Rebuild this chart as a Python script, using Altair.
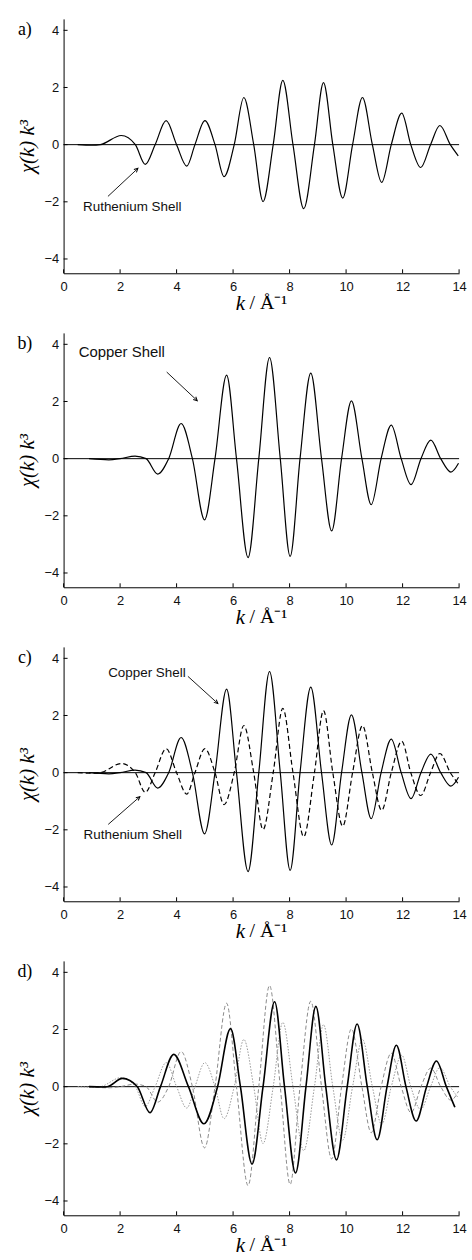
import math
import altair as alt
import pandas as pd

# ---------------- data ----------------
ru_k = [0.5, 1.0, 1.3, 2.04, 2.54, 2.89, 3.24, 3.63, 4.0, 4.36, 4.65, 5.0, 5.36, 5.68, 6.04,
        6.38, 6.73, 7.06, 7.42, 7.76, 8.12, 8.5, 8.88, 9.2, 9.53, 9.88, 10.23, 10.58, 10.93,
        11.26, 11.6, 11.97, 12.29, 12.64, 12.99, 13.32, 13.69, 13.97]
ru_chi = [0, -0.02, 0, 0.32, 0, -0.69, 0, 0.84, 0, -0.75, 0, 0.84, 0, -1.12, 0,
          1.65, 0, -1.99, 0, 2.25, 0, -2.24, 0, 2.17, 0, -1.87, 0, 1.65, 0,
          -1.32, 0, 1.1, 0, -0.8, 0, 0.67, 0, -0.39]

cu_k = [0.9, 1.6, 2.0, 2.53, 2.92, 3.33, 3.72, 4.16, 4.56, 4.99, 5.36, 5.77, 6.12, 6.53,
        6.91, 7.29, 7.67, 8.02, 8.37, 8.75, 9.13, 9.49, 9.84, 10.19, 10.56, 10.89, 11.24,
        11.6, 11.95, 12.3, 12.65, 13.0, 13.35, 13.71, 13.98]
cu_chi = [0, -0.04, 0, 0.09, 0, -0.54, 0, 1.23, 0, -2.14, 0, 2.92, 0, -3.46,
          0, 3.54, 0, -3.42, 0, 2.99, 0, -2.53, 0, 2.02, 0, -1.61, 0,
          1.17, 0, -0.91, 0, 0.65, 0, -0.47, -0.16]

fit_k = [0.9, 1.4, 1.55, 2.08, 2.61, 3.06, 3.43, 3.9, 4.42, 4.97, 5.45, 5.91, 6.26, 6.67,
         7.06, 7.47, 7.82, 8.21, 8.58, 8.93, 9.28, 9.66, 10.04, 10.39, 10.75, 11.1, 11.45,
         11.78, 12.12, 12.48, 12.85, 13.2, 13.55, 13.85]
fit_chi = [0, -0.01, 0, 0.29, 0, -0.91, 0, 1.13, 0, -1.3, 0, 2.03, 0, -2.71,
           0, 2.97, 0, -3.02, 0, 2.81, 0, -2.56, 0, 2.19, 0, -1.86, 0,
           1.45, 0, -1.2, 0, 0.9, 0, -0.72]

x_ticks = [0, 2, 4, 6, 8, 10, 12, 14]
y_ticks = [-4, -2, 0, 2, 4]

# annotations: panel, text, text x, text y, arrow start (x, y), arrow end (x, y), font size
ann_panel = ["a", "b", "c", "c"]
ann_text = ["Ruthenium Shell", "Copper Shell", "Copper Shell", "Ruthenium Shell"]
ann_tx = [2.43, 2.06, 2.95, 2.45]
ann_ty = [-2.18, 3.73, 3.5, -2.19]
ann_x0 = [1.57, 3.65, 4.4, 1.58]
ann_y0 = [-1.81, 3.03, 3.37, -1.81]
ann_x1 = [2.63, 4.73, 5.46, 2.7]
ann_y1 = [-0.83, 2.03, 2.42, -0.84]
ann_size = [13.5, 15, 13.5, 13.5]

panel_labels = ["a)", "b)", "c)", "d)"]
x_title_var = "k"
x_title_unit = "/ Å⁻¹"

# ---------------- layout constants ----------------
W, H = 398, 256
XDOM = [0, 14]
YDOM = [-4.5, 4.4]
PX_X = W / (XDOM[1] - XDOM[0])
PX_Y = H / (YDOM[1] - YDOM[0])

xs = alt.Scale(domain=XDOM, nice=False, zero=False)
ys = alt.Scale(domain=YDOM, nice=False, zero=False)

x_axis = alt.Axis(values=x_ticks, ticks=False, grid=False, labelPadding=7,
                  title=None, labelFlush=False, domainColor="#000", labelColor="#111",
                  labelFont="Liberation Sans", labelFontSize=13)
y_axis = alt.Axis(values=y_ticks, ticks=False, grid=False, labelPadding=5,
                  title="χ(k) k³", titleFont="Liberation Serif", titleFontSize=21,
                  titleFontStyle="italic", titleFontWeight="normal", titlePadding=6,
                  domainColor="#000", labelColor="#111",
                  labelFont="Liberation Sans", labelFontSize=13)


def X(field):
    return alt.X(field, type="quantitative", scale=xs, axis=x_axis)


def Y(field):
    return alt.Y(field, type="quantitative", scale=ys, axis=y_axis)


def line_layer(k, chi, color="#000", width=1.2, dash=None):
    props = dict(color=color, strokeWidth=width, interpolate="monotone")
    if dash:
        props["strokeDash"] = dash
    return alt.Chart(pd.DataFrame({"k": k, "chi": chi})).mark_line(**props).encode(
        x=X("k"), y=Y("chi"))


def frame_layers(label):
    zero = alt.Chart(pd.DataFrame({"z": [0]})).mark_rule(color="#000", strokeWidth=1).encode(
        y=Y("z"))
    xt = alt.Chart(pd.DataFrame({"t": x_ticks})).mark_rule(color="#000", strokeWidth=1).encode(
        x=X("t"), y=alt.value(H), y2=alt.value(H - 4))
    yt = alt.Chart(pd.DataFrame({"t": y_ticks})).mark_rule(color="#000", strokeWidth=1).encode(
        y=Y("t"), x=alt.value(0), x2=alt.value(4))
    lab = alt.Chart(pd.DataFrame({"l": [label]})).mark_text(
        font="Liberation Serif", fontSize=18, align="center", baseline="middle",
        color="#000").encode(text="l:N", x=alt.value(-39), y=alt.value(11))
    t1 = alt.Chart(pd.DataFrame({"l": [x_title_var]})).mark_text(
        font="Liberation Serif", fontSize=21, fontStyle="italic", align="center",
        baseline="middle", color="#000").encode(
        text="l:N", x=alt.value(W / 2 - 21), y=alt.value(H + 31))
    t2 = alt.Chart(pd.DataFrame({"l": [x_title_unit]})).mark_text(
        font="Liberation Serif", fontSize=20, align="left",
        baseline="middle", color="#000").encode(
        text="l:N", x=alt.value(W / 2 - 12), y=alt.value(H + 30))
    return [zero, xt, yt, lab, t1, t2]


def ann_layers(panel):
    layers = []
    for i, p in enumerate(ann_panel):
        if p != panel:
            continue
        dx = (ann_x1[i] - ann_x0[i]) * PX_X
        dy = -(ann_y1[i] - ann_y0[i]) * PX_Y
        ang = math.degrees(math.atan2(dx, -dy)) % 360
        one = pd.DataFrame([dict(text=ann_text[i], tx=ann_tx[i], ty=ann_ty[i], x0=ann_x0[i],
                                 y0=ann_y0[i], x1=ann_x1[i], y1=ann_y1[i])])
        layers.append(alt.Chart(one).mark_text(
            font="Liberation Sans", fontSize=ann_size[i], align="center",
            baseline="middle", color="#111").encode(x=X("tx"), y=Y("ty"), text="text:N"))
        layers.append(alt.Chart(one).mark_rule(color="#000", strokeWidth=0.9).encode(
            x=X("x0"), y=Y("y0"), x2="x1:Q", y2="y1:Q"))
        layers.append(alt.Chart(one).mark_point(
            shape="M-0.45,0.9L0,0L0.45,0.9", filled=False, color="#000",
            strokeWidth=1, size=70, opacity=1).encode(
            x=X("x1"), y=Y("y1"), angle=alt.value(ang)))
    return layers


def panel(label, curves, key):
    layers = frame_layers(label) + curves + ann_layers(key)
    return alt.layer(*layers).properties(width=W, height=H)


pa = panel("a)", [line_layer(ru_k, ru_chi)], "a")
pb = panel("b)", [line_layer(cu_k, cu_chi)], "b")
pc = panel("c)", [line_layer(ru_k, ru_chi, dash=[5, 3]),
                  line_layer(cu_k, cu_chi)], "c")
pd_ = panel("d)", [line_layer(cu_k, cu_chi, color="#8a8a8a", width=1, dash=[4, 2.5]),
                   line_layer(ru_k, ru_chi, color="#9a9a9a", width=1, dash=[1.5, 1.5]),
                   line_layer(fit_k, fit_chi, color="#000", width=1.6)], "d")

chart = alt.vconcat(pa, pb, pc, pd_, spacing=19).properties(
    padding={"left": 17, "top": 15, "right": 5, "bottom": 2},
    background="white",
).configure_view(stroke=None)

chart.save("out.html", embed_options={"renderer": "svg", "actions": False})
